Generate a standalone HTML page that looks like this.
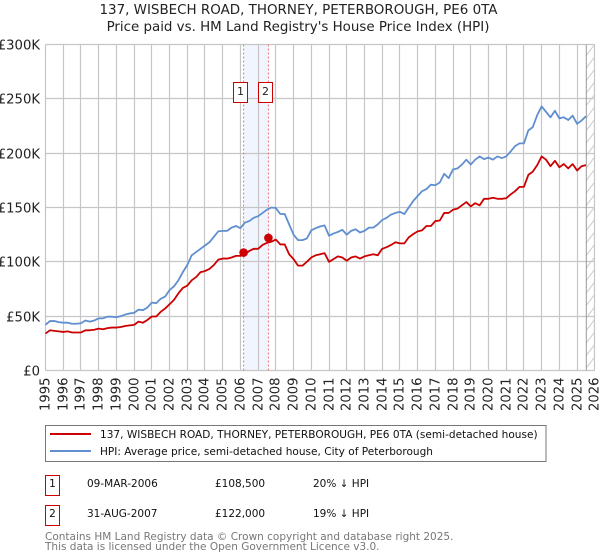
<!DOCTYPE html>
<html lang="en">
<head>
<meta charset="utf-8">
<title>137, Wisbech Road price chart</title>
<style>
html,body{margin:0;padding:0;background:#fff;}
body{width:600px;height:560px;overflow:hidden;}
svg{display:block;font-family:"DejaVu Sans","Liberation Sans",sans-serif;}
</style>
</head>
<body>
<svg id="chart" xmlns="http://www.w3.org/2000/svg" width="600" height="560" viewBox="0 0 600 560">
<defs>
<pattern id="hatch" patternUnits="userSpaceOnUse" width="9.5" height="12.5" patternTransform="translate(585.5 44)">
<line x1="0" y1="12.5" x2="9.5" y2="0" stroke="#ccc" stroke-width="1"/>
</pattern>
</defs>
<text x="298.5" y="14" font-size="13.45" text-anchor="middle" fill="#222">137, WISBECH ROAD, THORNEY, PETERBOROUGH, PE6 0TA</text>
<text x="298" y="31" font-size="13.4" text-anchor="middle" fill="#222">Price paid vs. HM Land Registry's House Price Index (HPI)</text>
<g id="shade"></g>
<g id="grid"></g>
<g id="forecast"></g>
<g id="sales"></g>
<g id="series"></g>
<g id="markers"></g>
<g id="yticks"></g>
<g id="xticks"></g>

<g>
<rect x="45.5" y="425.5" width="500.5" height="36" fill="#fff" stroke="#777" stroke-width="1"/>
<line x1="50" y1="434" x2="91" y2="434" stroke="#cc0000" stroke-width="2"/>
<text x="100" y="438" font-size="10.55" fill="#111">137, WISBECH ROAD, THORNEY, PETERBOROUGH, PE6 0TA (semi-detached house)</text>
<line x1="50" y1="451" x2="91" y2="451" stroke="#5f8fd0" stroke-width="2"/>
<text x="100" y="455" font-size="10.55" fill="#111">HPI: Average price, semi-detached house, City of Peterborough</text>
</g>

<g font-size="10.5" fill="#111">
<rect x="45.5" y="475.5" width="14" height="20" fill="#fff" stroke="#cc0000" stroke-width="1"/>
<text x="52.5" y="487" text-anchor="middle">1</text>
<text x="87" y="487">09-MAR-2006</text>
<text x="215" y="487">£108,500</text>
<text x="313" y="487">20% ↓ HPI</text>
</g>
<g font-size="10.5" fill="#111">
<rect x="45.5" y="505.5" width="14" height="20" fill="#fff" stroke="#cc0000" stroke-width="1"/>
<text x="52.5" y="517" text-anchor="middle">2</text>
<text x="87" y="517">31-AUG-2007</text>
<text x="215" y="517">£122,000</text>
<text x="313" y="517">19% ↓ HPI</text>
</g>
<text x="45" y="540" font-size="10.5" fill="#777">Contains HM Land Registry data © Crown copyright and database right 2025.</text>
<text x="45" y="550" font-size="10.5" fill="#777">This data is licensed under the Open Government Licence v3.0.</text>
</svg>
<script>
const yearTicks = [1995,1996,1997,1998,1999,2000,2001,2002,2003,2004,2005,2006,2007,2008,2009,2010,2011,2012,2013,2014,2015,2016,2017,2018,2019,2020,2021,2022,2023,2024,2025,2026];
const valueTicks = [0,50,100,150,200,250,300];
const valueTickLabels = ["£0","£50K","£100K","£150K","£200K","£250K","£300K"];
const seriesStartYear = 1995;
const seriesStepYears = 0.25;
const hpiValues = [
42,45.5,45.5,44.5, 44,44,43,43, 43.5,46,45,46, 48,48,49.5,49.5, 49,50,51.5,52.5,
53,56,55.5,58, 62.5,62,66,68, 74,77.5,83,90.5, 97,106,109,112, 115,118,123,128,
128.5,128.5,131.5,133, 131,136,137.5,140.5, 142,145,148,150, 149.5,144,144,134.5, 125,120,120,121.5,
129,131,132.5,133.5, 124,126,127.5,129.5, 125,128.5,130,127, 128.5,131.5,131.5,134.5, 138.5,140.5,143.5,145,
146,144,150,156, 160.6,165,167,171, 170.5,173,181,177, 185,186,189.5,194, 189.5,194,197,194.5,
196,194,197,195.5, 197,201.5,206.5,209, 209,221,224,235, 243,238,233,239, 232,233,230.5,234.5, 227,230,234
];
const pricePaidValues = [
34,37,36.5,36, 35.5,36,35,35, 35,37,37,37.5, 38.5,38,39,39.5, 39.5,40,41,41.5,
42,45,44,46.5, 49.7,49.7,54,57, 61,65,71,76, 78,83,86,90.5, 91.5,93.5,97,102,
103,103,104,105.5, 105.5,107,110,112, 112,115.5,117.5,118.5, 120.5,116,116,107, 102.5,96.5,96.5,100,
104,106,107,108, 100,102.5,105,104, 101,104,105,103, 105,106,107,106, 112,113.5,115.5,118,
117,117,122.5,125.5, 128,129,133,133, 137.5,138,145,145, 148,149,152,155, 151,154,152,158,
158,159,158,158, 158.5,162,165,169, 169,180,183,189, 197,194,188,193, 187,190,186,190, 184,188,189
];
const saleDates = [2006.18,2007.58];
const salePrices = [108.5,122];
const saleLabels = ["1","2"];
const dataEndYear = 2025.52;

const NS = "http://www.w3.org/2000/svg";
const xMin = 1995, xMax = 2026, yMin = 0, yMax = 300;
const plotLeft = 45.5, plotRight = 594.8, plotTop = 44.5, plotBottom = 370.5;
const xScale = t => plotLeft + (t - xMin) * (plotRight - plotLeft) / (xMax - xMin);
const yScale = v => plotBottom - (v - yMin) * (plotBottom - plotTop) / (yMax - yMin);
function mk(parent, tag, attrs) {
  const el = document.createElementNS(NS, tag);
  for (const k in attrs) el.setAttribute(k, attrs[k]);
  document.getElementById(parent).appendChild(el);
  return el;
}

// sale period shading
const shadeRect = mk("shade", "rect", {x: xScale(saleDates[0]), y: plotTop, width: xScale(saleDates[1]) - xScale(saleDates[0]), height: plotBottom - plotTop, fill: "#f1f5fe"});



// grid
yearTicks.forEach(y => {
  const px = Math.round(xScale(y) - 0.5) + 0.5;
  const l = mk("grid", "line", {x1: px, x2: px, y1: plotTop, y2: plotBottom, stroke: "#c6c6c6", "stroke-width": 1.2});
  
  
  const t = mk("xticks", "text", {transform: "translate(" + (px + 4) + " 411) rotate(-90)", "font-size": 13.2, fill: "#222"});
  
  
  t.textContent = y;
});
valueTicks.forEach((v, i) => {
  const py = Math.round(yScale(v) - 0.5) + 0.5;
  const l = mk("grid", "line", {x1: plotLeft, x2: plotRight, y1: py, y2: py, stroke: "#c6c6c6", "stroke-width": 1.2});
  
  
  const t = mk("yticks", "text", {x: 40, y: py + 5, "text-anchor": "end", "font-size": 13.2, fill: "#222"});
  
  
  t.textContent = valueTickLabels[i];
});

// hatched region after last data point
const hatchRect = mk("forecast", "rect", {x: xScale(dataEndYear), y: plotTop, width: plotRight - xScale(dataEndYear), height: plotBottom - plotTop, fill: "url(#hatch)"});


const endLine = mk("forecast", "line", {x1: xScale(dataEndYear), x2: xScale(dataEndYear), y1: plotTop, y2: plotBottom, stroke: "#999", "stroke-width": 1});



// sale date lines
saleDates.forEach(d => {
  const l = mk("sales", "line", {x1: xScale(d), x2: xScale(d), y1: plotTop, y2: plotBottom, stroke: "#f4707a", "stroke-width": 1, "stroke-dasharray": "2 2"});
  
  
});

// series
function pts(values) {
  return values.map((v, i) => xScale(seriesStartYear + i * seriesStepYears).toFixed(2) + "," + yScale(v).toFixed(2)).join(" ");
}
const hpiLine = mk("series", "polyline", {points: pts(hpiValues), fill: "none", stroke: "#5f8fd0", "stroke-width": 1.8, "stroke-linejoin": "round"});


const paidLine = mk("series", "polyline", {points: pts(pricePaidValues), fill: "none", stroke: "#cc0000", "stroke-width": 1.8, "stroke-linejoin": "round"});



// markers and badges
saleDates.forEach((d, i) => {
  const c = mk("markers", "circle", {cx: xScale(d), cy: yScale(salePrices[i]), r: 4.3, fill: "#cc0000"});
  
  
  const badgeX = Math.floor(xScale(d) - 10) + 0.5;
  const b = mk("markers", "rect", {x: badgeX, y: 82.5, width: 14, height: 20, fill: "#fff", stroke: "#cc0000", "stroke-width": 1});
  
  
  const t = mk("markers", "text", {x: badgeX + 7, y: 95, "text-anchor": "middle", "font-size": 11, fill: "#222"});
  
  
  t.textContent = saleLabels[i];
});
</script>
</body>
</html>
